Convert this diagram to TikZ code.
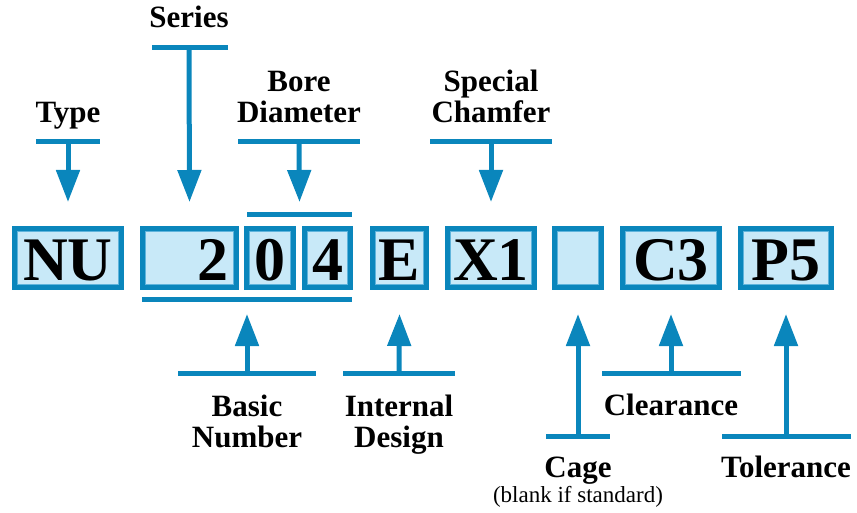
\documentclass[tikz,border=0pt]{standalone}
\usepackage{fontspec}
\setmainfont{Liberation Serif}
\usetikzlibrary{arrows.meta,calc}
\definecolor{kblue}{HTML}{0A86BC}
\definecolor{kfill}{HTML}{C8E9F8}
\definecolor{kinner}{HTML}{5FB4DC}
\tikzset{
  codebox/.style={draw=kblue, line width=5pt, fill=kfill, inner sep=0pt,
    minimum height=59pt, text height=44pt, text depth=0pt,
    font=\fontsize{62}{62}\selectfont\bfseries,
    path picture={\draw[kinner, line width=1pt]
      ([shift={(3pt,-3pt)}]path picture bounding box.north west) rectangle
      ([shift={(-3pt,3pt)}]path picture bounding box.south east);}},
  lbl/.style={font=\fontsize{31}{31}\selectfont\bfseries, align=center, inner sep=0pt, anchor=base},
  note/.style={font=\fontsize{23}{23}\selectfont, inner sep=0pt, anchor=base},
  bar/.style={kblue, line width=5pt},
  pointer/.style={kblue, line width=5pt, -{Triangle[length=32pt,width=23pt]}}
}
\begin{document}
\begin{tikzpicture}[x=1pt,y=-1pt]
\useasboundingbox (0,0) rectangle (857,513);
% code boxes
\node[codebox, minimum width=107pt] (NU) at (68,258) {NU};
\node[codebox, minimum width=94pt] (two) at (189.5,258) {\makebox[78pt][r]{2}};
\node[codebox, minimum width=47pt] (zero) at (270,258) {0};
\node[codebox, minimum width=46pt] (four) at (327.5,258) {4};
\node[codebox, minimum width=54pt] (E) at (399.5,258) {E};
\node[codebox, minimum width=87pt] (X1) at (491,258) {X1};
\node[codebox, minimum width=47pt] (blank) at (578,258) {};
\node[codebox, minimum width=97pt] (C3) at (671,258) {C3};
\node[codebox, minimum width=91pt] (P5) at (786,258) {P5};
% over- and underline of the number
\coordinate (ovL) at (247,215); \coordinate (ovR) at (352,215);
\coordinate (unL) at (142,299); \coordinate (unR) at (352,299);
\draw[bar] (ovL) -- (ovR);
\draw[bar] (unL) -- (unR);
% labels top (base anchor = baseline of last line)
\node[lbl] (lType) at (68,123) {Type};
\node[lbl] (lSeries) at (189,28) {Series};
\node[lbl] (lBore) at (299,123) {Bore\\Diameter};
\node[lbl] (lChamf) at (491,123) {Special\\Chamfer};
% labels bottom
\node[lbl] (lBasic) at (247,447) {Basic\\Number};
\node[lbl] (lInt) at (399,447) {Internal\\Design};
\node[lbl] (lCage) at (578,477) {Cage};
\node[note] (lCageNote) at (578,502) {(blank if standard)};
\node[lbl] (lClear) at (671,415) {Clearance};
\node[lbl] (lTol) at (786,477) {Tolerance};
% top bars
\coordinate (bType) at (68,142);
\coordinate (bSeries) at (189,48);
\coordinate (bBore) at (299,142);
\coordinate (bChamf) at (491,142);
\draw[bar] (36,142) -- (100,142);
\draw[bar] (152,48) -- (228,48);
\draw[bar] (238,142) -- (360,142);
\draw[bar] (430,142) -- (552,142);
% bottom bars
\coordinate (bBasic) at (247,373);
\coordinate (bInt) at (399,373);
\coordinate (bCage) at (578,436);
\coordinate (bClear) at (671,373);
\coordinate (bTol) at (786,436);
\draw[bar] (178,373) -- (316,373);
\draw[bar] (343,373) -- (455,373);
\draw[bar] (546,436) -- (610,436);
\draw[bar] (602,373) -- (741,373);
\draw[bar] (722,436) -- (851,436);
% pointers
\draw[pointer] (bType) -- ([yshift=24pt]NU.north);
\draw[pointer] (bSeries) -- ([yshift=24pt]two.north);
\draw[pointer] (bBore) -- ([yshift=13pt]$(ovL)!0.5!(ovR)$);
\draw[pointer] (bChamf) -- ([yshift=24pt]X1.north);
\draw[pointer] (bBasic) -- ([yshift=-15pt]$(unL)!0.5!(unR)$);
\draw[pointer] (bInt) -- ([yshift=-24pt]E.south);
\draw[pointer] (bCage) -- ([yshift=-24pt]blank.south);
\draw[pointer] (bClear) -- ([yshift=-24pt]C3.south);
\draw[pointer] (bTol) -- ([yshift=-24pt]P5.south);
\end{tikzpicture}
\end{document}
